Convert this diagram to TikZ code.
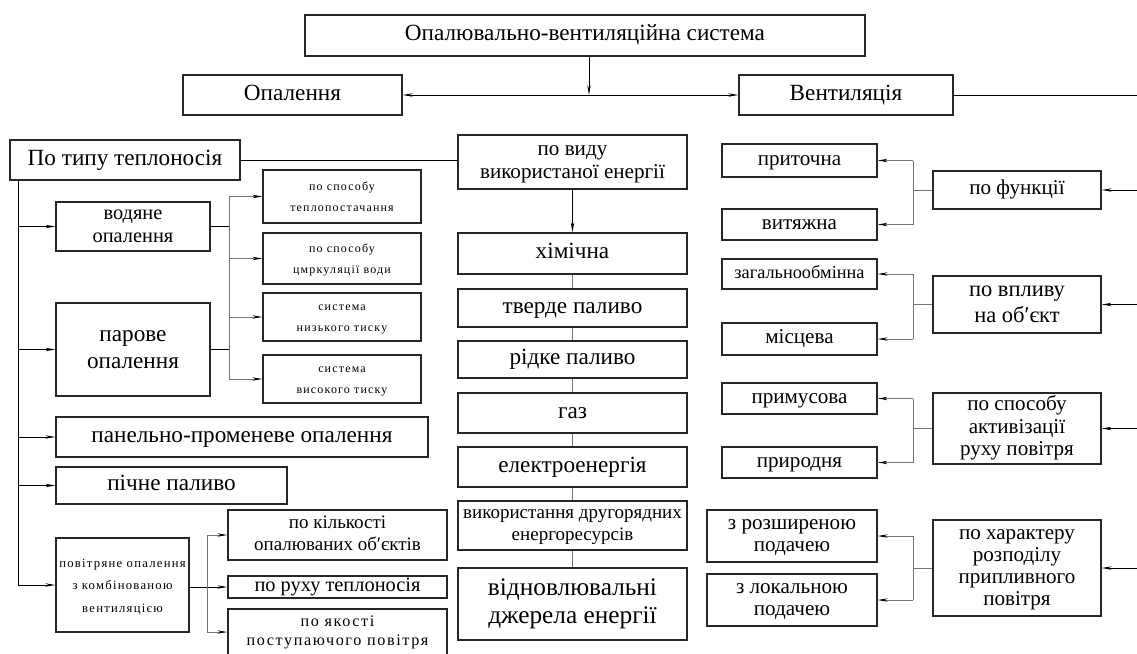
\documentclass[tikz,border=0pt]{standalone}
\usepackage{fontspec}
\setmainfont{Liberation Serif}
\newfontfamily\spacedfont[LetterSpace=10]{Liberation Serif}
\usetikzlibrary{arrows.meta,positioning,calc}
\newcommand\boxtext[1]{\begin{tabular}{@{}c@{}}\rule{0pt}{\dimexpr0.7\baselineskip+2.8pt\relax}#1\end{tabular}}% centred lines, a little lower

\tikzset{
  blk/.style 2 args={draw=black!85, line width=1.1pt, inner sep=0pt,
    minimum width=#1*0.025cm, minimum height=#2*0.025cm},
  bigtxt/.style={font=\fontsize{16.5}{19}\selectfont},
  coltxt/.style={font=\fontsize{16.5}{18}\selectfont},
  midtxt/.style={font=\fontsize{15}{16.5}\selectfont},
  smtxt/.style={font=\fontsize{13.5}{15.5}\selectfont},
  sptxt/.style={font=\spacedfont\fontsize{8.5}{15}\selectfont},
  ln/.style={line width=0.6pt, draw=black},
  gln/.style={line width=0.6pt, draw=black!55},
  arr/.style={ln, -{Stealth[length=7pt, width=2.4pt]}},
  garr/.style={gln, -{Stealth[length=7pt, width=2.4pt, color=black]}},
}

\begin{document}
\begin{tikzpicture}[x=0.025cm, y=-0.025cm]
  \useasboundingbox (0,0) rectangle (1137,653);% page = picture
  % top level
  \node[blk={560}{41}, bigtxt] (sys) at (585,35.5) {\boxtext{Опалювально-вентиляційна система}};
  \node[blk={219}{40}, bigtxt] (heat) at (292.5,95) {\boxtext{Опалення}};
  \node[blk={214}{40}, bigtxt] (vent) at (846,95) {\boxtext{Вентиляція}};
  \coordinate (jn) at (589,95);
  \coordinate (ve) at (1137,95);
  \draw[arr] (sys.south -| jn) -- (jn);
  \draw[arr] (jn) -- (heat.east);
  \draw[arr] (jn) -- (vent.west);
  \draw[ln] (vent.east) -- (ve);% runs off the page

  % heating, by carrier
  \node[blk={230}{40}, bigtxt] (carrier) at (125,160) {\boxtext{По типу теплоносія}};
  \node[blk={229}{54}, midtxt] (energy) at (572.5,162) {\boxtext{по виду\\використаної енергії}};
  \draw[ln] (carrier.east) -- (carrier.east -| energy.west);
  \coordinate (lb) at (18,0);
  \node[blk={154}{49}, font=\fontsize{14.5}{16}\selectfont] (water) at (133,226.5) {\boxtext{водяне\\опалення}};
  \node[blk={154}{93}, bigtxt] (steam) at (133,349.5) {\boxtext{парове\\опалення}};
  \node[blk={372}{40}, bigtxt] (panel) at (242,437) {\boxtext{панельно-променеве опалення}};
  \node[blk={231}{37}, bigtxt] (stove) at (171.5,485.5) {\boxtext{пічне паливо}};
  \node[blk={133}{94}, font=\spacedfont\fontsize{9}{16}\selectfont] (air) at (122.5,585) {\boxtext{повітряне опалення\\з комбінованою\\вентиляцією}};
  \draw[ln] (carrier.south -| lb) -- (lb |- air);
  \foreach \n in {water,steam,panel,stove,air}
    \draw[arr] (lb |- \n) -- (\n.west);

  % water / steam subtypes
  \node[blk={158}{53}, sptxt] (w1) at (342,196.5) {\boxtext{по способу\\теплопостачання}};
  \node[blk={158}{51}, sptxt] (w2) at (342,258.5) {\boxtext{по способу\\цмркуляції води}};
  \node[blk={158}{48}, sptxt] (w3) at (342,317) {\boxtext{система\\низького тиску}};
  \node[blk={158}{48}, sptxt] (w4) at (342,379) {\boxtext{система\\високого тиску}};
  \coordinate (wb) at (229,0);
  \draw[ln] (water.east) -- (water.east -| wb);
  \draw[ln] (steam.east) -- (steam.east -| wb);
  \draw[gln] (wb |- w1) -- (wb |- w4);
  \foreach \i in {1,...,4}
    \draw[garr] (wb |- w\i) -- (w\i.west);

  % air heating subtypes
  \node[blk={219}{50}, smtxt] (q1) at (337.5,535) {\boxtext{по кількості\\опалюваних об′єктів}};
  \node[blk={219}{22}, font=\fontsize{14.5}{16}\selectfont] (q2) at (337.5,587) {\boxtext{по руху теплоносія}};
  \node[blk={219}{46}, font=\spacedfont\fontsize{11.5}{14}\selectfont] (q3) at (337.5,632) {\boxtext{по якості\\поступаючого повітря}};
  \coordinate (qb) at (207,0);
  \draw[arr] (air.east |- q2) -- (q2.west);
  \draw[gln] (qb |- q1) -- (qb |- q3);
  \draw[garr] (qb |- q1) -- (q1.west);
  \draw[garr] (qb |- q3) -- (q3.west);

  % energy column
  \node[blk={229}{41}, coltxt] (e1) at (572.5,253.5) {\boxtext{хімічна}};
  \node[blk={229}{38}, coltxt] (e2) at (572.5,308) {\boxtext{тверде паливо}};
  \node[blk={229}{37}, coltxt] (e3) at (572.5,359.5) {\boxtext{рідке паливо}};
  \node[blk={229}{40}, coltxt] (e4) at (572.5,413) {\boxtext{газ}};
  \node[blk={229}{40}, coltxt] (e5) at (572.5,467) {\boxtext{електроенергія}};
  \node[blk={229}{49}, smtxt] (e6) at (572.5,525.5) {\boxtext{використання другорядних\\енергоресурсів}};
  \node[blk={229}{72}, font=\fontsize{18}{20}\selectfont] (e7) at (572.5,604) {\boxtext{відновлювальні\\джерела енергії}};
  \draw[arr] (energy) -- (e1);
  \foreach \a/\b in {e1/e2,e2/e3,e3/e4,e4/e5,e5/e6,e6/e7}
    \draw[gln] (\a) -- (\b);

  % ventilation
  \coordinate (rb) at (913,0);
  \node[blk={155}{33}, midtxt] (v1) at (799.5,160.5) {\boxtext{приточна}};
  \node[blk={155}{31}, midtxt] (v2) at (799.5,224.5) {\boxtext{витяжна}};
  \node[blk={168}{38}, midtxt] (g1) at (1017,190) {\boxtext{по функції}};
  \node[blk={155}{30}, font=\fontsize{13}{15}\selectfont] (v3) at (799.5,274) {\boxtext{загальнообмінна}};
  \node[blk={155}{32}, midtxt] (v4) at (799.5,339) {\boxtext{місцева}};
  \node[blk={168}{57}, font=\fontsize{16}{18}\selectfont] (g2) at (1017,304.5) {\boxtext{по впливу\\на об′єкт}};
  \node[blk={155}{31}, midtxt] (v5) at (799.5,398.5) {\boxtext{примусова}};
  \node[blk={155}{31}, midtxt] (v6) at (799.5,462.5) {\boxtext{природня}};
  \node[blk={168}{71}, font=\fontsize{15}{16}\selectfont] (g3) at (1017,428.5) {\boxtext{по способу\\активізації\\руху повітря}};
  \node[blk={170}{52}, font=\fontsize{15}{15.5}\selectfont] (v7) at (792,536) {\boxtext{з розширеною\\подачею}};
  \node[blk={170}{52}, font=\fontsize{15}{15.5}\selectfont] (v8) at (792,600) {\boxtext{з локальною\\подачею}};
  \node[blk={168}{96}, font=\fontsize{15}{15.7}\selectfont] (g4) at (1017,568) {\boxtext{по характеру\\розподілу\\припливного\\повітря}};
  \foreach \g/\a/\b in {g1/v1/v2,g2/v3/v4,g3/v5/v6,g4/v7/v8} {
    \draw[arr] (\g.east -| ve) -- (\g.east);% from the bus beyond the page
    \draw[gln] (\g.west) -- (\g.west -| rb);
    \draw[gln] (rb |- \a) -- (rb |- \b);
    \draw[garr] (rb |- \a) -- (\a.east);
    \draw[garr] (rb |- \b) -- (\b.east);
  }
\end{tikzpicture}
\end{document}
